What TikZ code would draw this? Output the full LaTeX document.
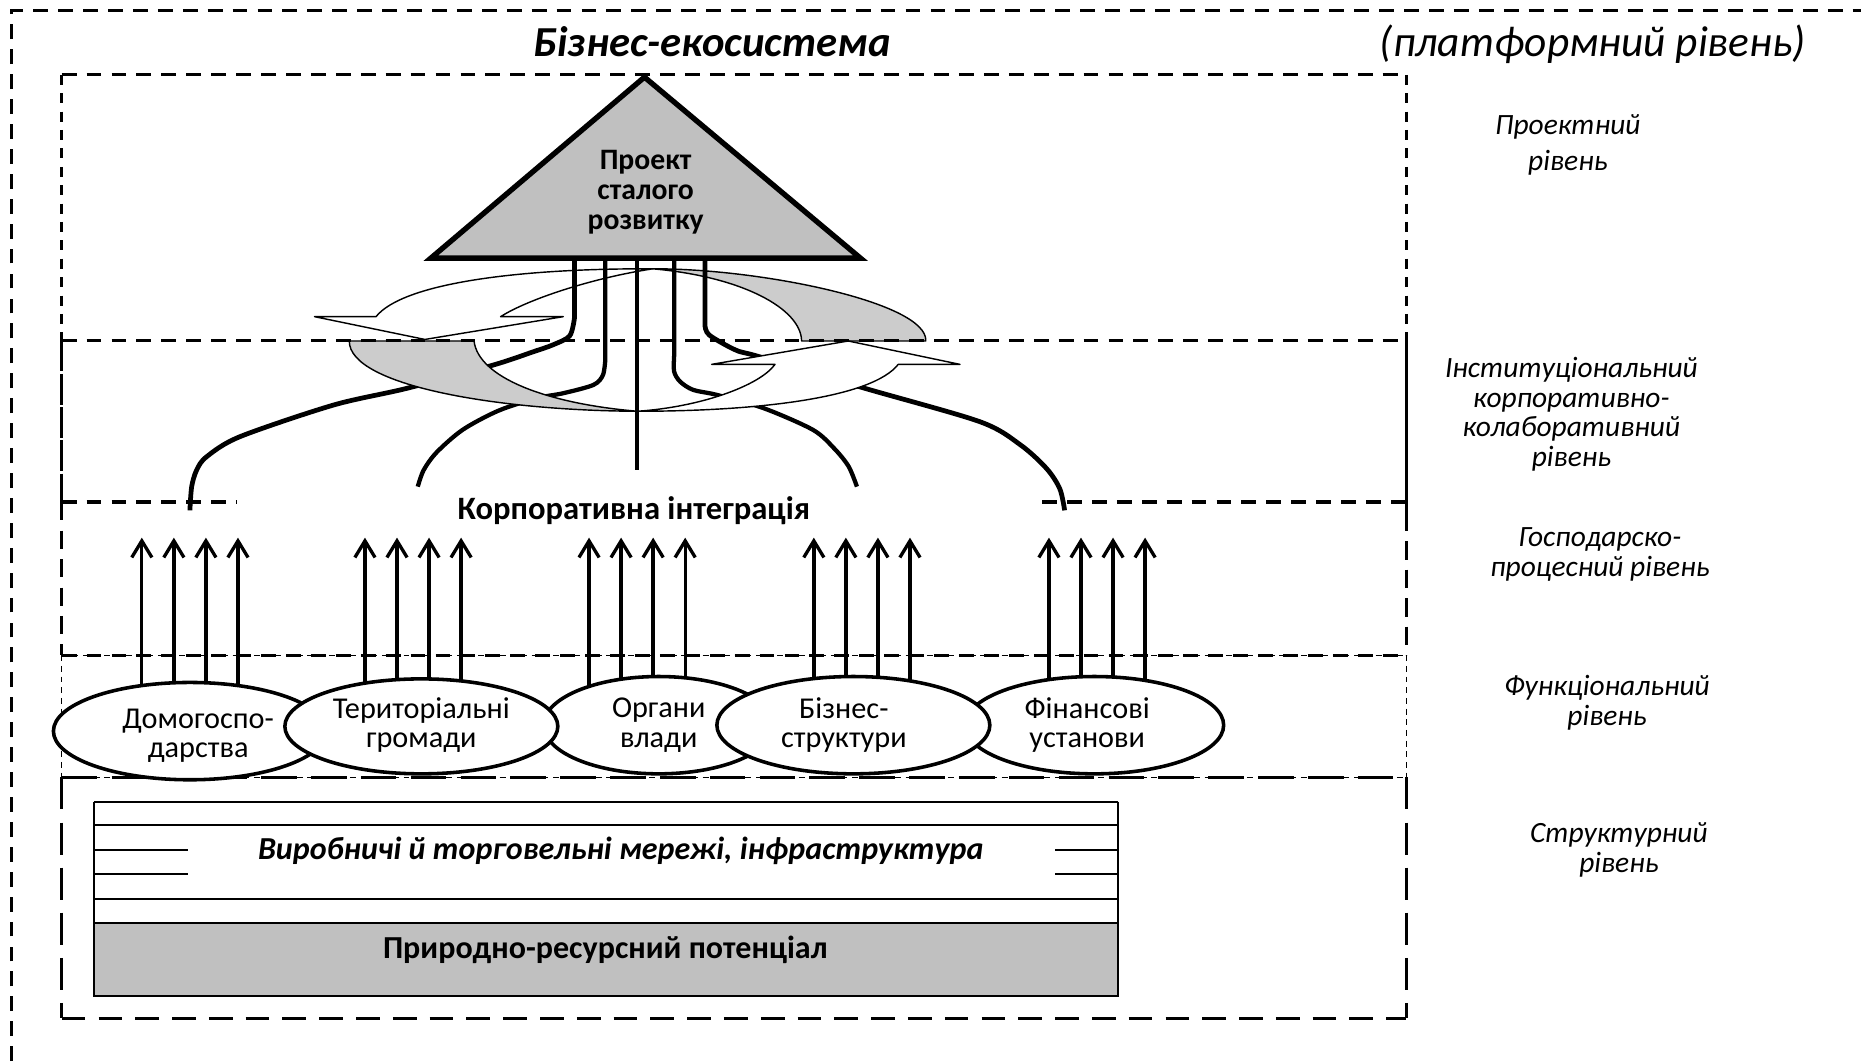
\documentclass[tikz,border=0pt]{standalone}
\usepackage{fontspec}
\setmainfont{Carlito}
\usetikzlibrary{arrows.meta,shapes.geometric}
\definecolor{shade}{HTML}{C0C0C0}
\definecolor{ribbon}{HTML}{CCCCCC}
\begin{document}
\begin{tikzpicture}[x=1pt,y=-1pt,
  txt/.style={inner sep=0pt, align=center, font=\fontsize{25.5}{25}\selectfont},
  btxt/.style={inner sep=0pt, align=center, font=\fontsize{25}{25}\selectfont\bfseries},
  side/.style={inner sep=0pt, align=center, font=\fontsize{24.8}{25}\selectfont\itshape},
  actor/.style={ellipse, draw, line width=3pt, fill=white, inner sep=0pt},
  up/.style={line width=2.8pt, -{Straight Barb[length=14pt,width=17pt]}},
  link/.style={line width=4pt},
  band/.style={draw, line width=1.2pt, line join=round},
  topdash/.style={line width=2.7pt, dash pattern=on 12.5pt off 8.5pt},
  shortdash/.style={line width=2.5pt, dash pattern=on 8.5pt off 7pt},
  densedash/.style={line width=2.5pt, dash pattern=on 26pt off 2pt},
  middash/.style={line width=2.5pt, dash pattern=on 15.5pt off 8.5pt},
  thindash/.style={line width=1pt, dash pattern=on 5pt off 4pt},
  longdash/.style={line width=2.7pt, dash pattern=on 27pt off 11pt},
  layer/.style={line width=1.7pt},
]
\useasboundingbox (0,0) rectangle (1568,894);

% ---------- titles ----------
\node[anchor=base, inner sep=0pt, font=\fontsize{36}{40}\selectfont\bfseries\itshape] (title) at (600,48) {Бізнес-екосистема};
\node[anchor=base, inner sep=0pt, font=\fontsize{36.5}{40}\selectfont\itshape] (platform) at (1342,48) {(платформний рівень)};

% ---------- level captions ----------
\node[side] (lvl1) at (1321,122) {Проектний\\[5pt]рівень};
\node[side] (lvl2) at (1324,349) {Інституціональний\\корпоративно-\\колаборативний\\рівень};
\node[side] (lvl3) at (1348,467) {Господарско-\\процесний рівень};
\node[side] (lvl4) at (1354,592) {Функціональний\\рівень};
\node[side] (lvl5) at (1364,716) {Структурний\\рівень};

% ---------- anchor points ----------
\coordinate (apex) at (543,65);
\coordinate (bl) at (363,217.5);
\coordinate (br) at (725,217.5);
\coordinate (t1) at (484,218);
\coordinate (t2) at (510,218);
\coordinate (t3) at (537,218);
\coordinate (t4) at (568,218);
\coordinate (t5) at (594,218);
\coordinate (k1) at (160,430);
\coordinate (k2) at (352,410);
\coordinate (k3) at (537,396);
\coordinate (k4) at (722,410);
\coordinate (k5) at (897,430);

% ---------- upper ribbon ----------
\path[band, fill=white] (550,226.5) .. controls (440,226) and (340,238) .. (316.8,266.8)
  -- (265,266.8) -- (358,286) -- (474.6,266.8) -- (421.8,266.8)
  .. controls (445,252) and (500,234) .. (550,226.5) -- cycle;
\path[band, fill=ribbon] (550,226.5) .. controls (640,226) and (782,255) .. (780,287.3)
  -- (675.4,287.3) .. controls (675,260) and (625,233) .. (550,226.5) -- cycle;

% ---------- links from the project down to integration ----------
\draw[link] (t1) -- plot[smooth, tension=0.5] coordinates {(484,268) (480,283) (466,290.5) (449.5,296.3) (415.8,307.5) (342.8,327.2) (280.9,341.3) (202.2,367.9) (174.1,384.8) (165.7,396) (161.5,410) (k1)};
\draw[link, line width=3.6pt] (t2) -- plot[smooth, tension=0.5] coordinates {(510,303) (508,316) (500,324.3) (474.6,331.3) (452.2,335.5) (420,346) (390,362) (368,381) (357,396) (k2)};
\draw[link, line width=3.6pt] (t4) -- plot[smooth, tension=0.5] coordinates {(568,300) (568,313) (573,321.5) (584,328.5) (603.9,332.7) (643.6,344) (685,362.2) (703,378) (715,393) (k4)};
\draw[link] (t5) -- plot[smooth, tension=0.5] coordinates {(594,274) (597.6,282.3) (620,295) (640,300.6) (727.4,326.8) (825.6,355.3) (860,375) (882,395) (893,412) (k5)};

% ---------- lower ribbon ----------
\path[band, fill=ribbon] (294.3,287.3) .. controls (294,325) and (420,346) .. (537,346.5)
  .. controls (460,340) and (403,318) .. (399.4,287.3) -- cycle;
\path[band, fill=white] (537,346.5) .. controls (640,346.5) and (735,335) .. (756.8,307)
  -- (808.8,307) -- (714.7,287.3) -- (599.6,307) -- (653,307)
  .. controls (640,325) and (590,343) .. (537,346.5) -- cycle;

\draw[line width=3.2pt] (t3) -- (k3);

% ---------- project triangle ----------
\path[draw, line width=4.5pt, fill=shade] (apex) -- (br) -- (bl) -- cycle;
\node[btxt] (project) at (544,162) {Проект\\сталого\\розвитку};

% ---------- outer frame ----------
\draw[topdash] (10,894) -- (10,9) -- (1568,9);

% ---------- level frames ----------
\draw[topdash] (52,63) -- (1185,63);
\draw[shortdash] (52,63) -- (52,287);
\draw[shortdash] (1185,63) -- (1185,287);
\draw[topdash] (52,287) -- (1185,287);
\draw[densedash] (52,287) -- (52,423);
\draw[line width=2.5pt] (1185,287) -- (1185,432);
\draw[topdash] (52,423) -- (200,423);
\draw[topdash] (878,423) -- (1185,423);
\draw[middash] (52,423) -- (52,552);
\draw[middash] (1185,432) -- (1185,552);
\draw[topdash] (52,552) -- (1185,552);
\draw[thindash] (52,552) -- (1185,552);
\draw[thindash] (52,552) -- (52,655);
\draw[thindash] (1185,552) -- (1185,655);
\draw[longdash, dash pattern=on 30pt off 12pt] (52,655) -- (1185,655);
\draw[thindash] (52,655) -- (1185,655);
\draw[longdash] (52,655) -- (52,858);
\draw[longdash] (1185,655) -- (1185,858);
\draw[topdash, dash pattern=on 20pt off 11pt] (52,858) -- (1185,858);

\node[inner sep=0pt, font=\fontsize{27.5}{28}\selectfont\bfseries] (corp) at (534,430) {Корпоративна інтеграція};

% ---------- arrows from the actors ----------
\coordinate (g1) at (119.5,580);
\coordinate (g2) at (307.5,580);
\coordinate (g3) at (496.3,580);
\coordinate (g4) at (685.7,580);
\coordinate (g5) at (883.8,580);
\foreach \g in {g1,g2,g3,g4,g5}
  \foreach \dx in {0,27,54,81}
    \draw[up] ([xshift=\dx pt]\g) -- ++(0,-127);

% ---------- actors ----------
\node[actor, minimum width=230pt, minimum height=82pt] (hh) at (160,616) {};
\node[actor, minimum width=194pt, minimum height=82pt] (gov) at (555,611) {};
\node[actor, minimum width=218pt, minimum height=82pt] (fin) at (922,611) {};
\node[actor, minimum width=230pt, minimum height=80pt] (comm) at (355,612) {};
\node[actor, minimum width=230pt, minimum height=82pt] (biz) at (719,611) {};
\node[txt] (hhT) at (167,620) {Домогоспо-\\дарства};
\node[txt] (commT) at (355,611) {Територіальні\\громади};
\node[txt] (govT) at (555,611) {Органи\\влади};
\node[txt] (bizT) at (711,611) {Бізнес-\\структури};
\node[txt] (finT) at (916,611) {Фінансові\\установи};

% ---------- structural layers ----------
\draw[layer] (79,675.5) -- (941.6,675.5);
\draw[layer] (79,695) -- (941.6,695);
\draw[layer] (79,716) -- (158,716);
\draw[layer] (889,716) -- (941.6,716);
\draw[layer] (79,736.6) -- (158,736.6);
\draw[layer] (889,736.6) -- (941.6,736.6);
\draw[layer] (79,757.4) -- (158,757.4);
\draw[line width=1.1pt] (158,757.4) -- (889,757.4);
\draw[layer] (889,757.4) -- (941.6,757.4);
\draw[layer] (79,675.5) -- (79,778);
\draw[layer] (941.6,675.5) -- (941.6,778);
\node[draw, layer, fill=shade, minimum width=862.6pt, minimum height=61pt, inner sep=0pt] (nature) at (510.3,808.5) {};
\node[inner sep=0pt, font=\fontsize{27}{28}\selectfont\bfseries\itshape] (networks) at (523,717) {Виробничі й торговельні мережі, інфраструктура};
\node[inner sep=0pt, font=\fontsize{27}{28}\selectfont\bfseries] (natureT) at (510,800) {Природно-ресурсний потенціал};

\end{tikzpicture}
\end{document}
